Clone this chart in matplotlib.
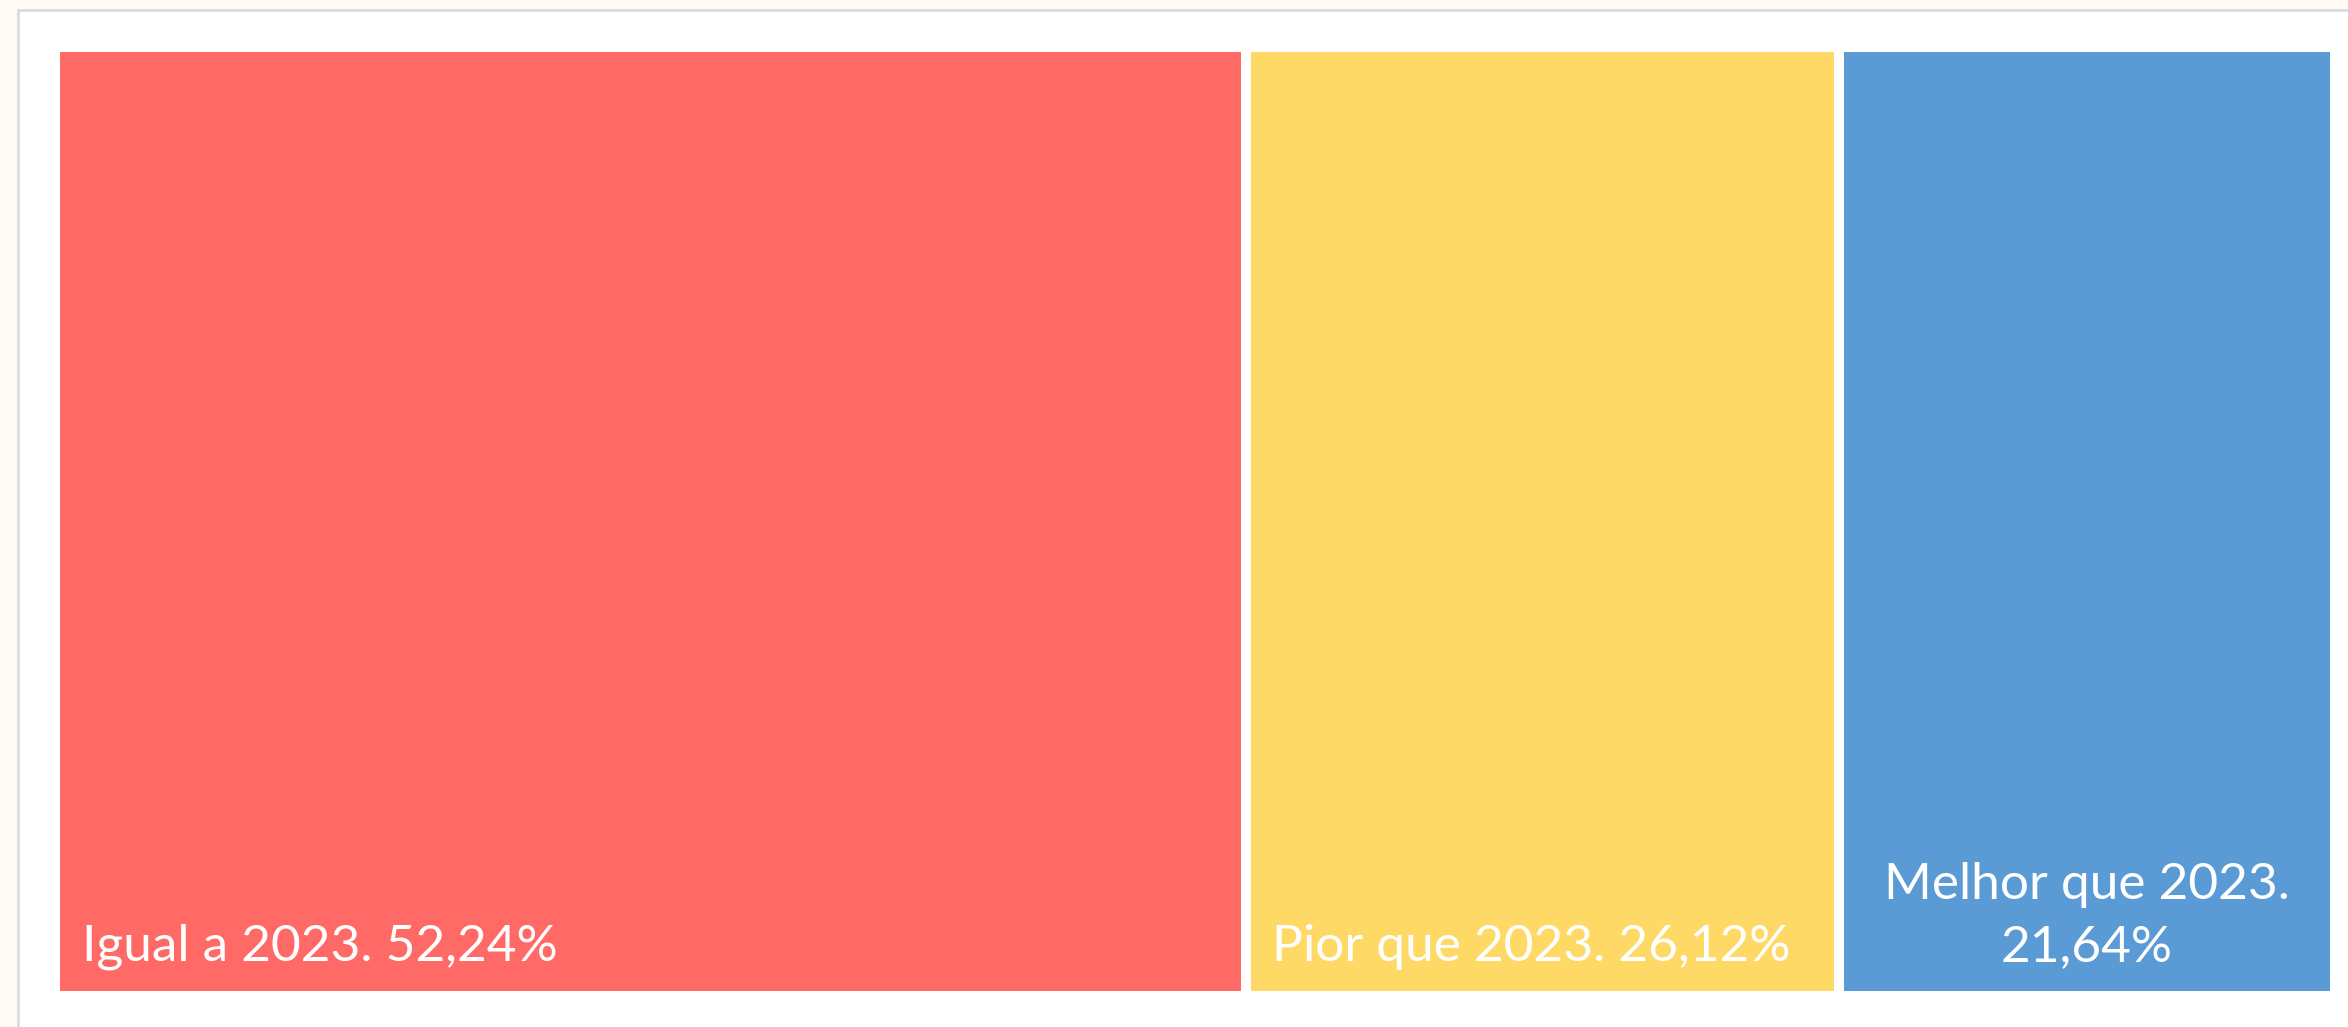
import matplotlib.pyplot as plt
from matplotlib.patches import Rectangle

# Treemap data
categories = ["Igual a 2023.", "Pior que 2023.", "Melhor que 2023."]
values = [52.24, 26.12, 21.64]
labels = ["Igual a 2023. 52,24%", "Pior que 2023. 26,12%", "Melhor que 2023.\n21,64%"]
colors = ["#FF6966", "#FFD966", "#5B9BD5"]

W, H = 2348, 1027
fig = plt.figure(figsize=(W / 100, H / 100), dpi=100)
fig.patch.set_facecolor("#FFFAF4")

# outer frame (white panel with grey border)
frame = fig.add_axes([0, 0, 1, 1])
frame.set_xlim(0, W)
frame.set_ylim(H, 0)
frame.axis("off")
frame.add_patch(Rectangle((18, 10), W + 40, H + 40, facecolor="white",
                          edgecolor="#D8DADD", linewidth=2))

# treemap area
left, right, top, bottom = 60, 2330, 52, 991
ax = fig.add_axes([left / W, (H - bottom) / H, (right - left) / W, (bottom - top) / H])
ax.set_xlim(0, sum(values))
ax.set_ylim(0, 1)
ax.axis("off")

gap = 10 * sum(values) / (right - left)
x0 = 0
for i, (v, lab, c) in enumerate(zip(values, labels, colors)):
    x_start = x0 + (gap / 2 if i > 0 else 0)
    x_end = x0 + v - (gap / 2 if i < len(values) - 1 else 0)
    ax.add_patch(Rectangle((x_start, 0), x_end - x_start, 1, facecolor=c,
                           edgecolor="none"))
    if "\n" in lab:
        ax.text((x_start + x_end) / 2, 0.022, lab, ha="center", va="bottom",
                color="white", fontsize=37, family="Lato", linespacing=1.45)
    else:
        ax.text(x_start + 0.95, 0.022, lab, ha="left", va="bottom",
                color="white", fontsize=37, family="Lato")
    x0 += v

plt.savefig("out.png", dpi=100, facecolor=fig.get_facecolor())
